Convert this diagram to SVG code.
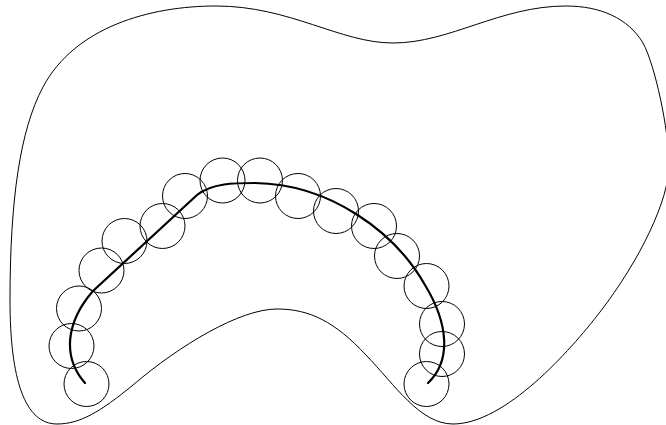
<svg xmlns="http://www.w3.org/2000/svg" width="666" height="425" viewBox="0 0 666 425">
<style>
.thin{fill:none;stroke:#000;stroke-width:1}
.thick{fill:none;stroke:#000;stroke-width:2.2;stroke-linecap:round}
</style>
<rect width="666" height="425" fill="#fff"/>
<g id="region">
<path class="thin" d="M216,6 C290,6 340,43 393,43 C450,43 500,6 566,6 C600,6 628,18 643,43 C655,65 669,130 669,165 C669,200 640,260 600,312 C570,351 505,424 453,424 C420,424 395,385 366,355 C335,322 310,309 277,309 C240,309 180,345 133,385 C100,412 80,424 57,424 C25,424 10,380 10,300 C10,200 20,130 43,87 C75,27 150,6 216,6 Z"/>
</g>
<g id="path">
<path class="thick" d="M85,383 C62,357 66,322 93,291 L197,195 C212,183 235,183 255,183 C330,184 395,232 425,285 C448,323 452,360 428,383"/>
</g>
<g id="disks">
<circle class="thin" cx="86.5" cy="384" r="22.5"/>
<circle class="thin" cx="71.5" cy="346" r="22.5"/>
<circle class="thin" cx="79" cy="308.5" r="22.5"/>
<circle class="thin" cx="101.5" cy="270.5" r="22.5"/>
<circle class="thin" cx="124.5" cy="241" r="22.5"/>
<circle class="thin" cx="162.5" cy="226" r="22.5"/>
<circle class="thin" cx="185" cy="196" r="22.5"/>
<circle class="thin" cx="222.5" cy="180.5" r="22.5"/>
<circle class="thin" cx="260" cy="180.5" r="22.5"/>
<circle class="thin" cx="298" cy="196" r="22.5"/>
<circle class="thin" cx="336" cy="211" r="22.5"/>
<circle class="thin" cx="374" cy="226" r="22.5"/>
<circle class="thin" cx="397" cy="256" r="22.5"/>
<circle class="thin" cx="426.5" cy="286" r="22.5"/>
<circle class="thin" cx="442" cy="324" r="22.5"/>
<circle class="thin" cx="442" cy="354" r="22.5"/>
<circle class="thin" cx="426.5" cy="384" r="22.5"/>
</g>
</svg>
